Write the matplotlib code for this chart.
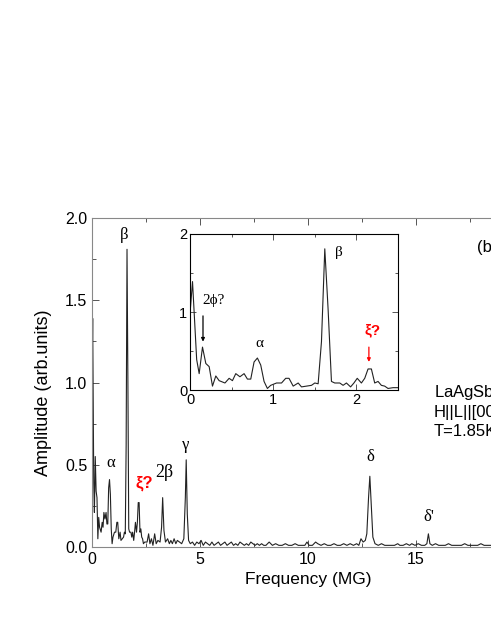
import matplotlib
matplotlib.use('Agg')
import matplotlib.pyplot as plt
import matplotlib.ticker as mticker

plt.rcParams.update({
    'font.family': ['Liberation Sans', 'DejaVu Sans'],
    'font.size': 11,
    'xtick.direction': 'in',
    'ytick.direction': 'in',
    'xtick.top': True,
    'ytick.right': True,
})

# low-frequency part of the spectrum (0 - 2.5 MG), also shown in the inset
low_freq = [0.00, 0.03, 0.08, 0.11, 0.15, 0.19, 0.23, 0.27, 0.31, 0.35,
            0.42, 0.47, 0.51, 0.55, 0.60, 0.65, 0.69, 0.73, 0.77, 0.81,
            0.85, 0.89, 0.93, 0.97, 1.04, 1.10, 1.15, 1.19, 1.24, 1.30,
            1.34, 1.40, 1.46, 1.50, 1.54, 1.58, 1.62, 1.66, 1.70, 1.74,
            1.80, 1.84, 1.88, 1.93, 1.97, 2.01, 2.06, 2.10, 2.14, 2.18,
            2.22, 2.26, 2.30, 2.34, 2.38, 2.44, 2.50]
low_amp = [0.98, 1.39, 0.39, 0.21, 0.55, 0.34, 0.30, 0.05, 0.18, 0.12,
           0.09, 0.15, 0.12, 0.21, 0.17, 0.21, 0.14, 0.14, 0.36, 0.41,
           0.32, 0.11, 0.02, 0.06, 0.09, 0.09, 0.15, 0.15, 0.05, 0.09,
           0.04, 0.05, 0.06, 0.09, 0.08, 0.62, 1.81, 1.03, 0.11, 0.09,
           0.09, 0.06, 0.09, 0.04, 0.09, 0.15, 0.09, 0.15, 0.27, 0.27,
           0.09, 0.11, 0.06, 0.05, 0.02, 0.03, 0.03]

# higher-frequency part (2.5 - 20 MG)
high_freq = [2.55, 2.62, 2.68, 2.75, 2.82, 2.90, 2.97, 3.05, 3.15, 3.22,
             3.27, 3.33, 3.40, 3.50, 3.58, 3.65, 3.72, 3.80, 3.88, 3.95,
             4.05, 4.15, 4.25, 4.32, 4.36, 4.41, 4.47, 4.55, 4.65, 4.75,
             4.85, 4.95, 5.05, 5.15, 5.25, 5.35, 5.45, 5.55, 5.65, 5.75,
             5.85, 5.95, 6.05, 6.15, 6.25, 6.35, 6.45, 6.55, 6.65, 6.75,
             6.85, 6.95, 7.05, 7.15, 7.25, 7.35, 7.45, 7.55, 7.65, 7.75,
             7.85, 7.95, 8.05, 8.20, 8.35, 8.50, 8.65, 8.80, 8.95, 9.10,
             9.25, 9.40, 9.55, 9.70, 9.85, 9.95, 10.05, 10.20, 10.35, 10.45,
             10.60, 10.75, 10.90, 11.05, 11.20, 11.35, 11.50, 11.65, 11.80, 11.95,
             12.10, 12.25, 12.35, 12.45, 12.55, 12.65, 12.72, 12.80, 12.86, 12.93,
             13.00, 13.10, 13.25, 13.40, 13.55, 13.70, 13.85, 14.00, 14.15, 14.25,
             14.40, 14.55, 14.70, 14.80, 14.95, 15.10, 15.25, 15.40, 15.50, 15.57,
             15.64, 15.75, 15.90, 16.05, 16.20, 16.35, 16.50, 16.65, 16.80, 16.95,
             17.10, 17.25, 17.40, 17.55, 17.70, 17.85, 18.00, 18.15, 18.30, 18.45,
             18.60, 18.75, 18.90, 19.05, 19.20, 19.40, 19.60, 19.80, 20.00]
high_amp = [0.03, 0.08, 0.02, 0.05, 0.01, 0.08, 0.02, 0.04, 0.03, 0.12,
            0.30, 0.10, 0.03, 0.05, 0.02, 0.04, 0.02, 0.05, 0.02, 0.04,
            0.03, 0.02, 0.05, 0.30, 0.53, 0.20, 0.04, 0.02, 0.03, 0.01,
            0.03, 0.02, 0.04, 0.01, 0.03, 0.02, 0.01, 0.03, 0.01, 0.02,
            0.03, 0.01, 0.02, 0.03, 0.01, 0.02, 0.03, 0.01, 0.02, 0.01,
            0.03, 0.02, 0.01, 0.02, 0.01, 0.03, 0.02, 0.01, 0.02, 0.01,
            0.02, 0.01, 0.01, 0.03, 0.01, 0.02, 0.01, 0.01, 0.02, 0.01,
            0.01, 0.02, 0.01, 0.01, 0.01, 0.03, 0.01, 0.01, 0.03, 0.02,
            0.01, 0.02, 0.01, 0.01, 0.02, 0.01, 0.01, 0.02, 0.01, 0.02,
            0.01, 0.02, 0.01, 0.05, 0.03, 0.04, 0.08, 0.30, 0.43, 0.25,
            0.06, 0.02, 0.01, 0.02, 0.01, 0.01, 0.01, 0.01, 0.02, 0.01,
            0.01, 0.02, 0.01, 0.02, 0.01, 0.02, 0.01, 0.01, 0.02, 0.08,
            0.02, 0.01, 0.02, 0.01, 0.01, 0.01, 0.02, 0.01, 0.01, 0.01,
            0.01, 0.02, 0.01, 0.01, 0.01, 0.01, 0.02, 0.01, 0.01, 0.01,
            0.01, 0.01, 0.01, 0.01, 0.01, 0.01, 0.01, 0.01, 0.01]

SERIF = ['Liberation Serif', 'DejaVu Serif']

fig = plt.figure(figsize=(4.91, 6.35), dpi=100)

# main panel (extends past the right edge like the cropped original)
ax = fig.add_axes([0.1874, 0.1386, 0.880, 0.518])
ax.plot(low_freq + high_freq, low_amp + high_amp, color='#222222', linewidth=0.8)
ax.set_xlim(0, 20)
ax.set_ylim(0, 2.0)
ax.xaxis.set_major_locator(mticker.MultipleLocator(5))
ax.xaxis.set_minor_locator(mticker.MultipleLocator(2.5))
ax.yaxis.set_major_locator(mticker.MultipleLocator(0.5))
ax.yaxis.set_minor_locator(mticker.MultipleLocator(0.25))
ax.yaxis.set_major_formatter(mticker.FormatStrFormatter('%.1f'))
ax.tick_params(which='both', labelsize=11.5, width=0.7, color='#555')
ax.tick_params(which='major', length=5)
ax.tick_params(which='minor', length=3)
for s in ax.spines.values():
    s.set_color('#888888')
ax.set_xlabel('Frequency (MG)', fontsize=12.5)
ax.set_ylabel('Amplitude (arb.units)', fontsize=13, va='center')
ax.yaxis.set_label_coords(-0.113, 0.468)

ax.text(1.48, 1.90, 'β', family=SERIF, fontsize=12, ha='center', va='center')
ax.text(0.88, 0.51, 'α', family=SERIF, fontsize=12, ha='center', va='center')
ax.text(2.41, 0.39, 'ξ?', color='red', fontweight='bold', fontsize=12, ha='center', va='center')
ax.text(3.33, 0.45, '2β', family=SERIF, fontsize=13, ha='center', va='center')
ax.text(4.35, 0.62, 'γ', family=SERIF, fontsize=12, ha='center', va='center')
ax.text(12.87, 0.55, 'δ', family=SERIF, fontsize=12, ha='center', va='center')
ax.text(15.6, 0.18, "δ'", family=SERIF, fontsize=12, ha='center', va='center')

fig.text(477 / 491, 1 - 247 / 635, '(b)', fontsize=12, va='center')
fig.text(434 / 491, 1 - 393 / 635, 'LaAgSb$_2$', fontsize=12, va='center')
fig.text(434 / 491, 1 - 412 / 635, 'H||L||[001]', fontsize=12, va='center')
fig.text(434 / 491, 1 - 431 / 635, 'T=1.85K', fontsize=12, va='center')

# inset: zoom on the low-frequency part
ins = fig.add_axes([0.387, 0.3858, 0.4236, 0.2457])
ins.plot(low_freq, low_amp, color='#222222', linewidth=0.8)
ins.set_xlim(0, 2.5)
ins.set_ylim(0, 2)
ins.xaxis.set_major_locator(mticker.MultipleLocator(1))
ins.xaxis.set_minor_locator(mticker.MultipleLocator(0.5))
ins.yaxis.set_major_locator(mticker.MultipleLocator(1))
ins.yaxis.set_minor_locator(mticker.MultipleLocator(0.5))
ins.tick_params(which='both', labelsize=10.5, width=0.7, color='#555', pad=2)
ins.tick_params(which='major', length=4)
ins.tick_params(which='minor', length=2.5)

ins.text(1.79, 1.76, 'β', family=SERIF, fontsize=11, ha='center', va='center')
ins.text(0.83, 0.60, 'α', family=SERIF, fontsize=11, ha='center', va='center')
ins.text(0.28, 1.15, '2ϕ?', family=SERIF, fontsize=11, ha='center', va='center')
ins.text(2.20, 0.77, 'ξ?', color='red', fontweight='bold', fontsize=11, ha='center', va='center')
ins.annotate('', xy=(0.156, 0.62), xytext=(0.156, 0.95),
             arrowprops=dict(arrowstyle='-|>', color='black', lw=0.9,
                             mutation_scale=5, shrinkA=0, shrinkB=0))
ins.annotate('', xy=(2.15, 0.36), xytext=(2.15, 0.55),
             arrowprops=dict(arrowstyle='-|>', color='red', lw=0.9,
                             mutation_scale=5, shrinkA=0, shrinkB=0))

fig.savefig('out.png', dpi=100)
